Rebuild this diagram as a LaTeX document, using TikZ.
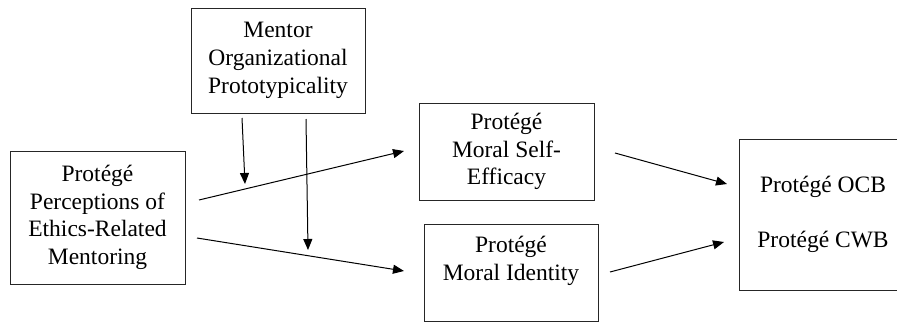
\documentclass[tikz,border=0pt]{standalone}
\usepackage{fontspec}
\setmainfont{Liberation Serif}
\usetikzlibrary{arrows.meta}
\begin{document}
\begin{tikzpicture}[x=1pt,y=-1pt,
  box/.style={draw=black!85,line width=0.9pt,inner sep=0pt,align=center,
    font=\fontsize{23.5}{27.7}\selectfont},
  arr/.style={line width=1pt,-{Triangle[length=11pt,width=9pt]}}]
\useasboundingbox (0,0) rectangle (897,322);
\clip (0,0) rectangle (897,322);
\node[box,minimum width=174pt,minimum height=105pt] (mentor) at (278,60.5)
  {Mentor\\Organizational\\Prototypicality};
\node[box,minimum width=175pt,minimum height=133pt] (perc) at (97.5,217.5)
  {Protégé\\Perceptions of\\Ethics-Related\\Mentoring};
\node[box,minimum width=175pt,minimum height=97pt] (mse) at (506.5,151.5)
  {Protégé\\Moral Self-\\Efficacy};
\node[box,minimum width=174pt,minimum height=97pt] (mid) at (511,272.5)
  {Protégé\\Moral Identity\\\mbox{}};
\node[box,minimum width=168pt,minimum height=151pt] (out) at (823,214.5)
  {Protégé OCB\\\mbox{}\\Protégé CWB};
% arrow end points
\coordinate (m1s) at (242,118);
\coordinate (m1e) at (245,184);
\coordinate (m2s) at (306,119);
\coordinate (m2e) at (308,250);
\coordinate (p1s) at (199,200);
\coordinate (p1e) at (404,151);
\coordinate (p2s) at (197,238);
\coordinate (p2e) at (404,271);
\coordinate (s1s) at (615,153);
\coordinate (s1e) at (727,184);
\coordinate (i1s) at (610,272);
\coordinate (i1e) at (724,242);
\draw[arr] (m1s) -- (m1e);
\draw[arr] (m2s) -- (m2e);
\draw[arr] (p1s) -- (p1e);
\draw[arr] (p2s) -- (p2e);
\draw[arr] (s1s) -- (s1e);
\draw[arr] (i1s) -- (i1e);
\end{tikzpicture}
\end{document}
